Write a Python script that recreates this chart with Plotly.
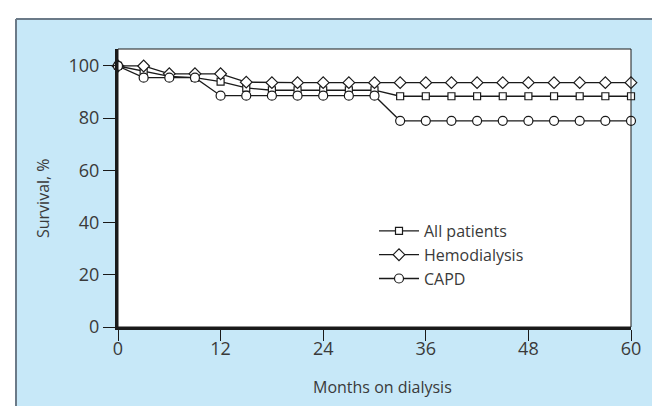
import plotly.graph_objects as go

# Months on dialysis (markers every 3 months)
months = [0, 3, 6, 9, 12, 15, 18, 21, 24, 27, 30, 33, 36, 39, 42, 45, 48, 51, 54, 57, 60]

# Survival, %
all_patients = [100, 98, 96, 95.5, 94, 91.6, 90.7, 90.7, 90.7, 90.7, 90.7,
                88.4, 88.4, 88.4, 88.4, 88.4, 88.4, 88.4, 88.4, 88.4, 88.4]
hemodialysis = [100, 100, 97, 97, 97, 93.8, 93.6, 93.6, 93.6, 93.6, 93.6,
                93.6, 93.6, 93.6, 93.6, 93.6, 93.6, 93.6, 93.6, 93.6, 93.6]
capd = [100, 95.5, 95.5, 95.5, 88.6, 88.6, 88.6, 88.6, 88.6, 88.6, 88.6,
        79, 79, 79, 79, 79, 79, 79, 79, 79, 79]

x_ticks = [0, 12, 24, 36, 48, 60]
y_ticks = [0, 20, 40, 60, 80, 100]

FONT = "Open Sans"
INK = "#1a1a1a"
TEXT = "#3a3a3a"
PANEL = "#c7e8f8"
EDGE = "#6b7a88"

series = [
    ("All patients", all_patients, "square", 7),
    ("Hemodialysis", hemodialysis, "diamond", 9),
    ("CAPD", capd, "circle", 9),
]

fig = go.Figure()
for name, vals, sym, size in series:
    fig.add_trace(go.Scatter(
        x=months, y=vals, name=name, mode="lines+markers",
        line=dict(color=INK, width=1.3),
        marker=dict(symbol=sym, size=size, color="white",
                    line=dict(color=INK, width=1.2)),
        cliponaxis=False,
    ))

# ── Panel: light blue card with grey top/left edge ───────────────────────────
# plot area spans 110..623 px horizontally, 41..319 px vertically
px = lambda v: (v - 110) / 513
py = lambda v: (319 - v) / 278
fig.add_shape(type="rect", xref="paper", yref="paper",
              x0=px(-5), x1=px(8), y0=py(420), y1=py(-5),
              fillcolor="white", line_width=0, layer="below")
fig.add_shape(type="rect", xref="paper", yref="paper",
              x0=px(-5), x1=px(670), y0=py(11), y1=py(-5),
              fillcolor="white", line_width=0, layer="below")
fig.add_shape(type="line", xref="paper", yref="paper",
              x0=px(8), x1=px(670), y0=py(11), y1=py(11),
              line=dict(color=EDGE, width=2))
fig.add_shape(type="line", xref="paper", yref="paper",
              x0=px(8), x1=px(8), y0=py(11), y1=py(420),
              line=dict(color=EDGE, width=2))
# thin frame on top/right of the plot area
fig.add_shape(type="rect", xref="paper", yref="paper",
              x0=0, x1=1, y0=0, y1=1,
              line=dict(color=INK, width=1), fillcolor="rgba(0,0,0,0)")

fig.add_annotation(text="Months on dialysis", xref="paper", yref="paper",
                   x=px(374), y=py(379), xanchor="center", yanchor="middle",
                   showarrow=False,
                   font=dict(family=FONT, size=16, color=TEXT))
fig.add_annotation(text="Survival, %", xref="paper", yref="paper",
                   x=px(35), y=py(190), xanchor="center", yanchor="middle",
                   showarrow=False, textangle=-90,
                   font=dict(family=FONT, size=16, color=TEXT))

fig.update_layout(
    width=660, height=406,
    margin=dict(l=110, r=37, t=41, b=87),
    paper_bgcolor=PANEL, plot_bgcolor="white",
    font=dict(family=FONT, size=17, color=TEXT),
    showlegend=True,
    legend=dict(x=px(366), y=py(206), xanchor="left", yanchor="top",
                bgcolor="rgba(0,0,0,0)", itemwidth=40,
                font=dict(family=FONT, size=16, color=TEXT),
                tracegroupgap=0),
)
fig.update_xaxes(
    range=[0, 60], tickvals=x_ticks, ticks="outside", ticklen=11,
    tickwidth=1, tickcolor=INK, showline=True, linewidth=3, linecolor=INK,
    showgrid=False, zeroline=False, fixedrange=True, ticklabelstandoff=-8,
    tickfont=dict(family=FONT, size=18, color=TEXT),
)
fig.update_yaxes(
    range=[0, 106.5], tickvals=y_ticks, ticks="outside", ticklen=12,
    tickwidth=1, tickcolor=INK, showline=True, linewidth=3, linecolor=INK,
    showgrid=False, zeroline=False, fixedrange=True,
    tickfont=dict(family=FONT, size=18, color=TEXT),
)

fig.write_html("out.html")
